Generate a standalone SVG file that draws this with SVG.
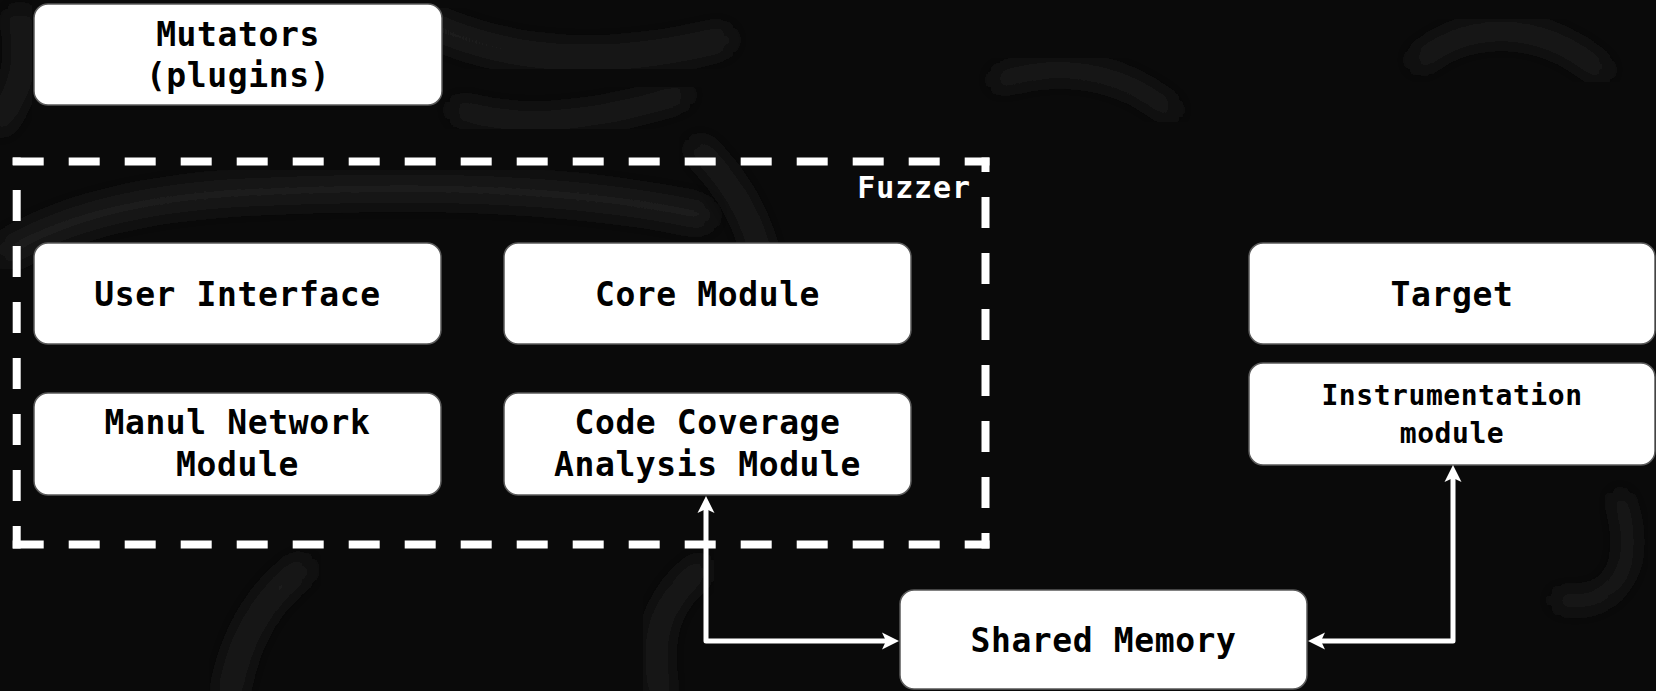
<svg xmlns="http://www.w3.org/2000/svg" width="1656" height="691" viewBox="0 0 1656 691">
  <style>
    .box { fill: #ffffff; stroke: #5a5a5a; stroke-width: 1.5; }
    .label { font-family: "DejaVu Sans Mono", "Liberation Mono", monospace; font-weight: bold; font-size: 33px; letter-spacing: 0.6px; fill: #000000; text-anchor: middle; }
    .small { font-size: 28px; letter-spacing: 0.55px; }
    .title { font-family: "DejaVu Sans Mono", "Liberation Mono", monospace; font-weight: bold; font-size: 30px; letter-spacing: 0.9px; fill: #ffffff; text-anchor: end; }
    .dash { stroke: #ffffff; stroke-width: 8; stroke-dasharray: 31 25; fill: none; }
    .link { stroke: #ffffff; stroke-width: 5; fill: none; stroke-linejoin: round; marker-start: url(#head); marker-end: url(#head); }
    .haze { fill: none; stroke: #1f1f1f; stroke-linecap: round; filter: url(#soft); }
  </style>
  <defs>
    <marker id="head" viewBox="0 -9 17 18" refX="9" refY="0" markerWidth="17" markerHeight="18" markerUnits="userSpaceOnUse" orient="auto-start-reverse">
      <path d="M0,-8.5 L17,0 L0,8.5 L4,0 Z" fill="#ffffff"/>
    </marker>
    <filter id="soft" x="-30%" y="-30%" width="160%" height="160%">
      <feGaussianBlur stdDeviation="10"/>
    </filter>
  </defs>

  <!-- dark textured backdrop -->
  <rect x="0" y="0" width="1656" height="691" fill="#0a0a0a"/>
  <g id="backdrop">
    <path class="haze" stroke-width="28" d="M10,250 C80,210 170,195 260,192 C400,186 560,185 700,215"/>
    <path class="haze" stroke-width="22" d="M700,150 C740,190 760,230 770,300"/>
    <path class="haze" stroke-width="24" d="M0,120 C20,90 30,60 20,20"/>
    <path class="haze" stroke-width="26" d="M420,20 C500,60 600,70 720,40"/>
    <path class="haze" stroke-width="20" d="M460,110 C520,130 600,120 680,95"/>
    <path class="haze" stroke-width="24" d="M230,691 C240,640 260,600 300,570"/>
    <path class="haze" stroke-width="22" d="M660,691 C650,640 660,600 700,570"/>
    <path class="haze" stroke-width="16" d="M1620,500 C1640,560 1620,610 1560,600"/>
    <path class="haze" stroke-width="20" d="M1420,60 C1470,20 1540,20 1600,70"/>
    <path class="haze" stroke-width="18" d="M1000,80 C1060,60 1120,70 1170,110"/>
  </g>

  <!-- Fuzzer container: four dashed sides and its label -->
  <g id="fuzzer">
    <line class="dash" x1="12.7" y1="161.5" x2="989.5" y2="161.5"/>
    <line class="dash" x1="12.7" y1="544.5" x2="989.5" y2="544.5"/>
    <line class="dash" x1="16.7" y1="157.5" x2="16.7" y2="548.5" stroke-dashoffset="23.5"/>
    <line class="dash" x1="985.5" y1="157.5" x2="985.5" y2="548.5" stroke-dashoffset="16.5"/>
    <text class="title" x="971" y="198">Fuzzer</text>
  </g>

  <g id="mutators">
    <rect class="box" x="34" y="4" width="408" height="101" rx="14"/>
    <text class="label" x="238" y="46">Mutators</text>
    <text class="label" x="238" y="87">(plugins)</text>
  </g>

  <g id="user-interface">
    <rect class="box" x="34" y="243" width="407" height="101" rx="14"/>
    <text class="label" x="237.5" y="306">User Interface</text>
  </g>

  <g id="core-module">
    <rect class="box" x="504" y="243" width="407" height="101" rx="14"/>
    <text class="label" x="707.5" y="306">Core Module</text>
  </g>

  <g id="network-module">
    <rect class="box" x="34" y="393" width="407" height="102" rx="14"/>
    <text class="label" x="237.5" y="434">Manul Network</text>
    <text class="label" x="237.5" y="476">Module</text>
  </g>

  <g id="coverage-module">
    <rect class="box" x="504" y="393" width="407" height="102" rx="14"/>
    <text class="label" x="707.5" y="434">Code Coverage</text>
    <text class="label" x="707.5" y="476">Analysis Module</text>
  </g>

  <g id="target">
    <rect class="box" x="1249" y="243" width="406" height="101" rx="14"/>
    <text class="label" x="1452" y="306">Target</text>
  </g>

  <g id="instrumentation">
    <rect class="box" x="1249" y="363" width="406" height="102" rx="14"/>
    <text class="label small" x="1452" y="405">Instrumentation</text>
    <text class="label small" x="1452" y="443">module</text>
  </g>

  <g id="shared-memory">
    <rect class="box" x="900" y="590" width="407" height="99" rx="14"/>
    <text class="label" x="1103.5" y="652">Shared Memory</text>
  </g>

  <!-- bidirectional links through shared memory -->
  <g id="connectors">
    <path class="link" d="M891,641 L706,641 L706,504"/>
    <path class="link" d="M1316,641 L1453,641 L1453,473"/>
  </g>
</svg>
